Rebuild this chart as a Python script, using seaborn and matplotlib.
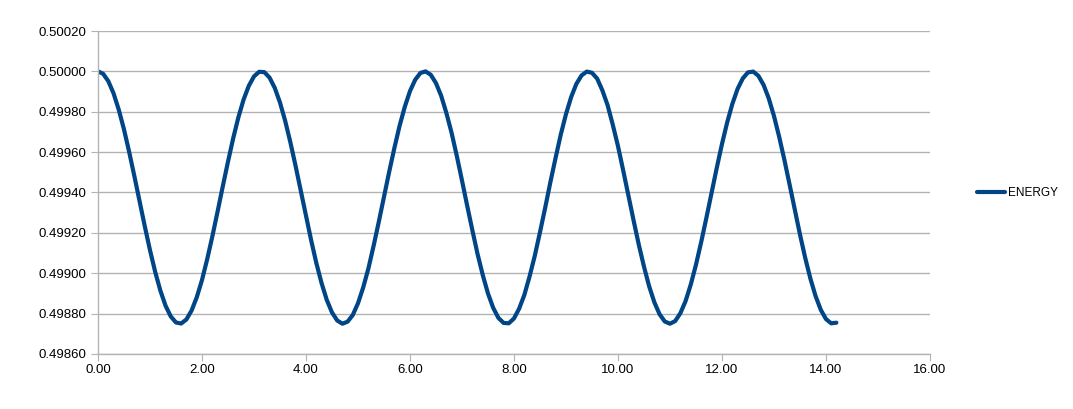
import pandas as pd
import matplotlib.pyplot as plt
import seaborn as sns
from matplotlib.ticker import FormatStrFormatter, MultipleLocator

# Dados (tempo x energia)
tempo = [0.0, 0.1, 0.2, 0.3, 0.4, 0.5, 0.6, 0.7, 0.8, 0.9,
         1.0, 1.1, 1.2, 1.3, 1.4, 1.5, 1.6, 1.7, 1.8, 1.9,
         2.0, 2.1, 2.2, 2.3, 2.4, 2.5, 2.6, 2.7, 2.8, 2.9,
         3.0, 3.1, 3.2, 3.3, 3.4, 3.5, 3.6, 3.7, 3.8, 3.9,
         4.0, 4.1, 4.2, 4.3, 4.4, 4.5, 4.6, 4.7, 4.8, 4.9,
         5.0, 5.1, 5.2, 5.3, 5.4, 5.5, 5.6, 5.7, 5.8, 5.9,
         6.0, 6.1, 6.2, 6.3, 6.4, 6.5, 6.6, 6.7, 6.8, 6.9,
         7.0, 7.1, 7.2, 7.3, 7.4, 7.5, 7.6, 7.7, 7.8, 7.9,
         8.0, 8.1, 8.2, 8.3, 8.4, 8.5, 8.6, 8.7, 8.8, 8.9,
         9.0, 9.1, 9.2, 9.3, 9.4, 9.5, 9.6, 9.7, 9.8, 9.9,
         10.0, 10.1, 10.2, 10.3, 10.4, 10.5, 10.6, 10.7, 10.8, 10.9,
         11.0, 11.1, 11.2, 11.3, 11.4, 11.5, 11.6, 11.7, 11.8, 11.9,
         12.0, 12.1, 12.2, 12.3, 12.4, 12.5, 12.6, 12.7, 12.8, 12.9,
         13.0, 13.1, 13.2, 13.3, 13.4, 13.5, 13.6, 13.7, 13.8, 13.9,
         14.0, 14.1, 14.2]
energia = [0.500000, 0.499988, 0.499951, 0.499891, 0.499810, 0.499713, 0.499601, 0.499481, 0.499357, 0.499233,
           0.499115, 0.499007, 0.498914, 0.498839, 0.498786, 0.498756, 0.498751, 0.498771, 0.498815, 0.498881,
           0.498966, 0.499069, 0.499183, 0.499305, 0.499430, 0.499552, 0.499668, 0.499772, 0.499860, 0.499928,
           0.499975, 0.499998, 0.499996, 0.499969, 0.499918, 0.499846, 0.499755, 0.499649, 0.499532, 0.499409,
           0.499284, 0.499163, 0.499050, 0.498951, 0.498868, 0.498806, 0.498766, 0.498750, 0.498760, 0.498793,
           0.498851, 0.498929, 0.499023, 0.499135, 0.499254, 0.499378, 0.499502, 0.499620, 0.499730, 0.499824,
           0.499902, 0.499958, 0.499992, 0.500000, 0.499983, 0.499942, 0.499879, 0.499794, 0.499696, 0.499582,
           0.499460, 0.499335, 0.499213, 0.499095, 0.498991, 0.498900, 0.498829, 0.498779, 0.498754, 0.498752,
           0.498776, 0.498825, 0.498893, 0.498984, 0.499086, 0.499203, 0.499324, 0.499451, 0.499571, 0.499687,
           0.499788, 0.499873, 0.499938, 0.499980, 0.499999, 0.499993, 0.499964, 0.499906, 0.499833, 0.499736,
           0.499630, 0.499510, 0.499386, 0.499262, 0.499142, 0.499033, 0.498935, 0.498856, 0.498797, 0.498761,
           0.498750, 0.498763, 0.498802, 0.498862, 0.498944, 0.499042, 0.499154, 0.499274, 0.499399, 0.499522,
           0.499640, 0.499747, 0.499839, 0.499913, 0.499965, 0.499995, 0.499999, 0.499978, 0.499933, 0.499866,
           0.499779, 0.499676, 0.499562, 0.499440, 0.499315, 0.499192, 0.499077, 0.498974, 0.498887, 0.498819,
           0.498773, 0.498752, 0.498755]

df = pd.DataFrame({'tempo': tempo, 'ENERGY': energia})

sns.set_style('white')
plt.rcParams['font.family'] = ['Liberation Sans', 'DejaVu Sans']

fig = plt.figure(figsize=(10.73, 4.09), dpi=100)
ax = fig.add_axes([0.0913, 0.1345, 0.7754, 0.7897])

sns.lineplot(data=df, x='tempo', y='ENERGY', color='#004586', linewidth=3,
             label='ENERGY', ax=ax, legend=False)
ax.lines[0].set_solid_joinstyle('round')
ax.lines[0].set_solid_capstyle('round')

# Eixos
ax.set_xlim(0, 16)
ax.set_ylim(0.49860, 0.50020)
ax.xaxis.set_major_locator(MultipleLocator(2))
ax.yaxis.set_major_locator(MultipleLocator(0.0002))
ax.xaxis.set_major_formatter(FormatStrFormatter('%.2f'))
ax.yaxis.set_major_formatter(FormatStrFormatter('%.5f'))
ax.set_xlabel('')
ax.set_ylabel('')

ax.grid(axis='y', color='#b3b3b3', linewidth=1)
ax.grid(axis='x', visible=False)
for lado in ['top', 'right']:
    ax.spines[lado].set_visible(False)
for lado in ['left', 'bottom']:
    ax.spines[lado].set_color('#b3b3b3')
    ax.spines[lado].set_linewidth(1)

ax.tick_params(axis='y', direction='out', length=5, color='#b3b3b3', labelsize=9.5, pad=3)
ax.tick_params(axis='x', direction='out', length=5, color='#b3b3b3', labelsize=9.5, pad=2)
ax.tick_params(left=True, bottom=True, labelcolor='black')

# Legenda ao lado
handles, labels = ax.get_legend_handles_labels()
leg = fig.legend(handles, labels, loc='center left', bbox_to_anchor=(0.906, 0.528),
                 frameon=False, fontsize=8.5, handlelength=2.4, handletextpad=0.2,
                 borderaxespad=0)
for t in leg.get_texts():
    t.set_color('black')

fig.savefig('out.png', dpi=100)
